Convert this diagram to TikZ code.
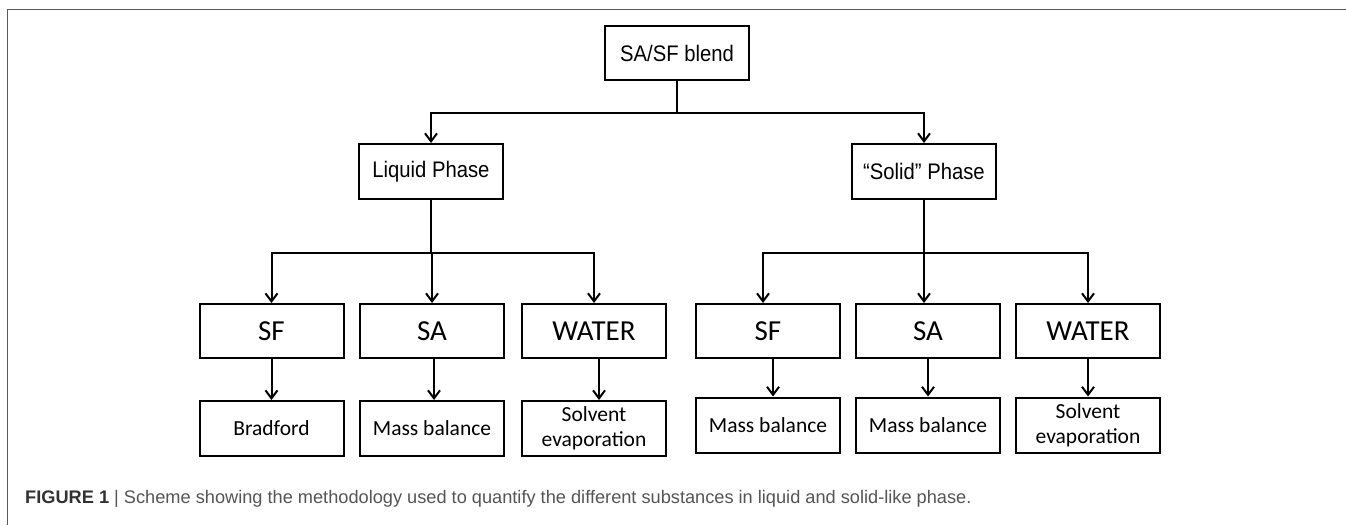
\documentclass[tikz,border=0pt]{standalone}
\usepackage{fontspec}
\setmainfont{Liberation Sans}
\newfontfamily\calib{Carlito}
\newfontfamily\narrowsans[FakeStretch=0.9,Ligatures=TeX]{Liberation Sans}
\usetikzlibrary{arrows.meta}
\definecolor{framegray}{RGB}{90,90,90}
\definecolor{capgray}{RGB}{85,85,85}
\definecolor{capdark}{RGB}{50,50,50}
\begin{document}
\begin{tikzpicture}[x=1pt,y=-1pt,
  box/.style={draw=black,line width=2pt,minimum width=144pt,minimum height=54pt,inner sep=0pt,align=center},
  topbox/.style={box,font=\narrowsans\fontsize{22.5}{25}\selectfont},
  midbox/.style={box,font=\calib\fontsize{29}{30}\selectfont},
  lowbox/.style={box,minimum height=55pt,font=\calib\fontsize{21.5}{25}\selectfont},
  conn/.style={line width=2pt,black},
  arr/.style={conn,-{Straight Barb[length=8pt,width=12pt,line width=2pt]}}]
\useasboundingbox (0,0) rectangle (1346,525);
\fill[white] (0,0) rectangle (1346,525);
% frame
\draw[framegray,line width=1.4pt] (1346,9.5) -- (7.5,9.5) -- (7.5,525);
% top levels
\node[topbox] (blend) at (677,53) {SA/SF blend};
\node[topbox,minimum height=55pt] (liq) at (431,171.5) {Liquid Phase};
\node[topbox,minimum height=55pt] (sol) at (924,171.5) {“Solid” Phase};
% middle level
\node[midbox] (sf1) at (271.5,331) {SF};
\node[midbox] (sa1) at (432,331) {SA};
\node[midbox] (w1) at (594,331) {WATER};
\node[midbox] (sf2) at (768,331) {SF};
\node[midbox] (sa2) at (928,331) {SA};
\node[midbox] (w2) at (1088,331) {WATER};
% bottom level
\node[lowbox] (b1) at (271.5,428.5) {Bradford};
\node[lowbox] (b2) at (432,428.5) {Mass balance};
\node[lowbox] (b3) at (594,428.5) {Solvent\\evaporation};
\node[lowbox] (b4) at (768,425) {Mass balance};
\node[lowbox] (b5) at (928,425) {Mass balance};
\node[lowbox] (b6) at (1088,425) {Solvent\\evaporation};
% junctions
\coordinate (j0) at (677,113);
\coordinate (jl) at (431,253);
\coordinate (js) at (924,253);
% connectors
\draw[conn] (blend.south) -- (j0);
\draw[arr] (j0) -| (liq.north);
\draw[arr] (j0) -| (sol.north);
\draw[conn] (liq.south) -- (jl);
\draw[arr] (jl) -| (sf1.north);
\draw[arr] (jl) -| (sa1.north);
\draw[arr] (jl) -| (w1.north);
\draw[conn] (sol.south) -- (js);
\draw[arr] (js) -| ([xshift=-5pt]sf2.north);
\draw[arr] (js) -| ([xshift=-4pt]sa2.north);
\draw[arr] (js) -| (w2.north);
\draw[arr] (sf1.south) -- (b1.north);
\draw[arr] ([xshift=2pt]sa1.south) -- ([xshift=2pt]b2.north);
\draw[arr] ([xshift=5pt]w1.south) -- ([xshift=5pt]b3.north);
\draw[arr] ([xshift=5pt]sf2.south) -- ([xshift=5pt]b4.north);
\draw[arr] (sa2.south) -- (b5.north);
\draw[arr] (w2.south) -- (b6.north);
% caption
\node[anchor=west,inner sep=0pt,font=\fontsize{18.2}{21}\selectfont,text=capgray] (cap) at (25,499)
  {\textcolor{capdark}{\textbf{FIGURE 1}} | Scheme showing the methodology used to quantify the different substances in liquid and solid-like phase.};
\end{tikzpicture}
\end{document}
